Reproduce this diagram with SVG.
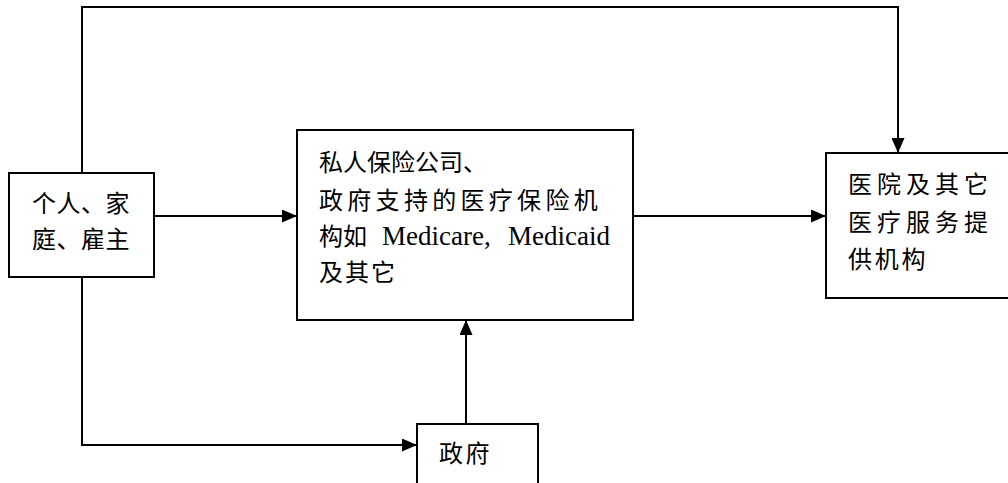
<svg xmlns="http://www.w3.org/2000/svg" width="1008" height="483" viewBox="0 0 1008 483">
<style>
.box{fill:#fff;stroke:#000;stroke-width:2}
.ln{fill:none;stroke:#000;stroke-width:2}
text{font-family:"Liberation Serif","Noto Sans CJK SC",serif;font-size:24px;fill:#000}
.lat{font-family:"Liberation Serif",serif;font-size:27px}
</style>
<defs>
<marker id="ahb" markerWidth="15" markerHeight="13" refX="15" refY="6.5" orient="auto" markerUnits="userSpaceOnUse" viewBox="0 0 15 13">
<path d="M0,0 L15,6.5 L0,13 z" fill="#000"/>
</marker>
</defs>
<g id="connectors">
<path class="ln" d="M82,173 V7 H898 V153" marker-end="url(#ahb)"/>
<path class="ln" d="M154,216 H297" marker-end="url(#ahb)"/>
<path class="ln" d="M633,216 H826" marker-end="url(#ahb)"/>
<path class="ln" d="M82,277 V445 H417" marker-end="url(#ahb)"/>
<path class="ln" d="M466,424 V320" marker-end="url(#ahb)"/>
</g>
<g id="person">
<rect class="box" x="9" y="173" width="145" height="104"/>
<text x="32" y="212" letter-spacing="0.5">个人、家</text>
<text x="32" y="248" letter-spacing="0.5">庭、雇主</text>
</g>
<g id="insurer">
<rect class="box" x="297" y="130" width="336" height="190"/>
<text x="319" y="171" font-size="25">私人保险公司、</text>
<text x="319" y="209" font-size="25" letter-spacing="4.3">政府支持的医疗保险机</text>
<text x="319" y="245" font-size="25">构如<tspan class="lat" x="382">Medicare,</tspan><tspan class="lat" x="508">Medicaid</tspan></text>
<text x="319" y="281" font-size="25" letter-spacing="2">及其它</text>
</g>
<g id="hospital">
<rect class="box" x="826" y="153" width="186" height="145"/>
<text x="848" y="193" letter-spacing="5">医院及其它</text>
<text x="848" y="231" letter-spacing="5">医疗服务提</text>
<text x="848" y="268" letter-spacing="2.7">供机构</text>
</g>
<g id="government">
<rect class="box" x="417" y="424" width="121" height="70"/>
<text x="439" y="462" letter-spacing="2.5">政府</text>
</g>
</svg>
